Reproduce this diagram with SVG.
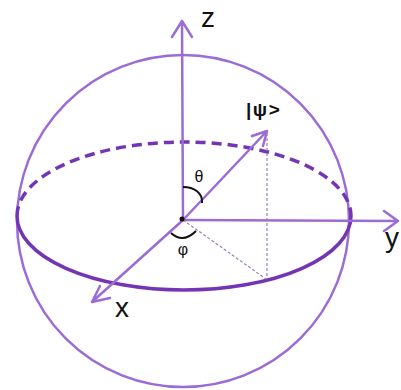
<svg xmlns="http://www.w3.org/2000/svg" width="401" height="390" viewBox="0 0 401 390">
<style>
.ax{fill:none;stroke:#9b6bd6;stroke-width:2.5;stroke-linecap:round;stroke-linejoin:round}
.eq{fill:none;stroke:#7435b4;stroke-width:3.5}
.dot{fill:none;stroke:#9a80b0;stroke-width:1.2;stroke-dasharray:3 2}
.arc{fill:none;stroke:#111;stroke-width:2}
.lbl{font-family:"Liberation Sans",Arial,sans-serif;fill:#111}
</style>
<rect width="401" height="390" fill="#fff"/>
<g id="sphere">
<circle cx="183" cy="221" r="166" class="ax"/>
</g>
<g id="equator">
<path d="M17,216 A167,74 0 0 1 351,216" class="eq" stroke-dasharray="10 6"/>
<path d="M17,216 A167,74 0 0 0 351,216" class="eq"/>
</g>
<g id="connectors">
<path d="M183,220 L182,21 M172,37 L182,21 L192,37" class="ax"/>
<path d="M183,220 L398,221 M384,211 L398,221 L384,231" class="ax"/>
<path d="M183,220 L92,302 M100,286 L92,302 L110,298" class="ax"/>
<path d="M183,220 L267,131 M252,136 L267,131 L263,146" class="ax"/>
<path d="M267,133 L267,279 M183,220 L266,279" class="dot"/>
<path d="M183,187 C194,187 203,193 202,203" class="arc"/>
<path d="M171,233 Q183,244 196,231" class="arc"/>
<circle cx="182" cy="219" r="2.5" fill="#111"/>
</g>
<g id="labels">
<text x="201" y="27" class="lbl" font-size="28">z</text>
<text x="115" y="317" class="lbl" font-size="28">x</text>
<text x="385" y="247" class="lbl" font-size="28">y</text>
<text x="199" y="182" class="lbl" font-size="16" text-anchor="middle">θ</text>
<text x="183" y="255" class="lbl" font-size="16" text-anchor="middle">φ</text>
<text x="246" y="116" class="lbl" font-size="19" font-weight="bold" letter-spacing="1.5">|ψ&gt;</text>
</g>
</svg>
